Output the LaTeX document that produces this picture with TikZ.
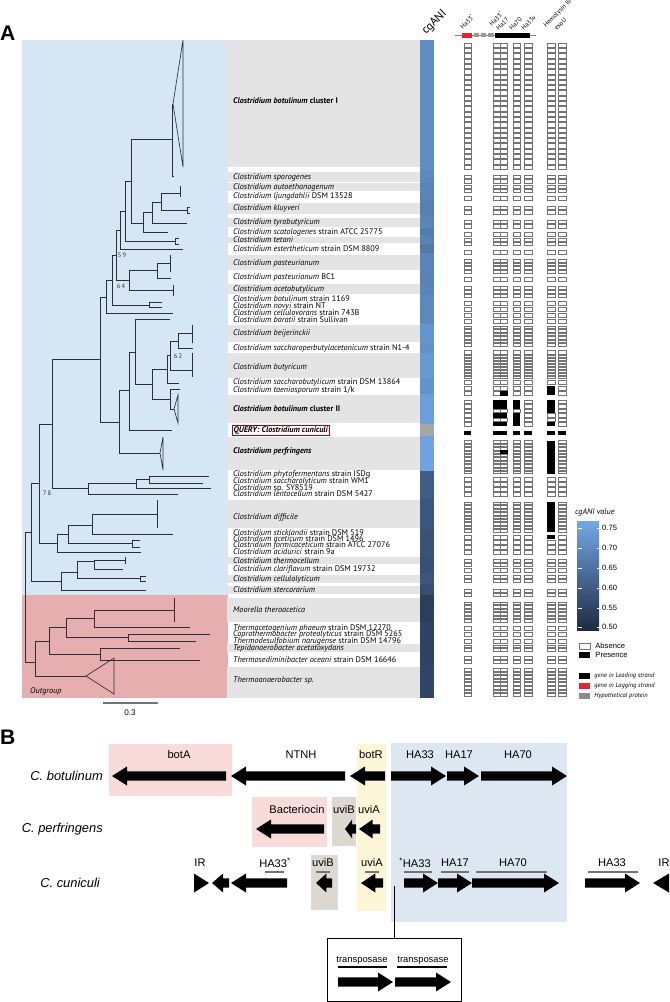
\documentclass[tikz,border=0pt]{standalone}
\usepackage{fontspec}
\setmainfont{Liberation Sans}
\newfontfamily\myriad{PT Sans}
\usetikzlibrary{positioning}

\definecolor{treebg}{HTML}{D7E6F5}
\definecolor{outbg}{HTML}{E6AEAE}
\definecolor{bandc}{HTML}{E4E4E4}
\definecolor{anihi}{HTML}{72A8E8}
\definecolor{anilo}{HTML}{1E2B43}
\definecolor{treec}{HTML}{2A2F38}
\definecolor{botpink}{HTML}{F9DCDA}
\definecolor{haclr}{HTML}{DDE7F2}
\definecolor{uviclr}{HTML}{DED8D2}
\definecolor{botrclr}{HTML}{FDF6D6}
\definecolor{lagred}{HTML}{E0262A}

% tree node: x, y of upper child, y of lower child, x of upper child, x of lower child
\newcommand\tnode[5]{\draw[tree] (#4,#2) -| (#1,#3) -- (#5,#3);}
\newcommand\clbar[3]{\draw[tree] (#1,#2) -- (#1,#3);}
\newcommand\fork[4]{\draw[tree] (#2,#3) -| (#1,#4) -- (#2,#4);}
% presence / absence stack: y centre, count, pitch, 0/1 for the seven columns
\newcommand\parow[4]{%
  \pgfmathsetmacro\ptop{#1-#2*#3/2}%
  \foreach \cf [count=\ci] in {#4} {%
    \pgfmathsetmacro\cx{{467.5,496.5,503.5,516.5,528,551,562}[\ci-1]}%
    \ifnum\cf=1
      \fill (\cx-3.7,\ptop+0.5) rectangle (\cx+3.7,\ptop+#2*#3-0.5);
    \else
      \foreach \k in {1,...,#2} {\draw[ab] (\cx-3.7,\ptop+\k*#3-#3+0.5) rectangle (\cx+3.7,\ptop+\k*#3-0.5);}
    \fi}}
\newcommand\gbox[4]{\draw[#4] (#1-3.7,#2-#3/2) rectangle (#1+3.7,#2+#3/2);}
% gene arrow: tail x, tip x, y
\newcommand\garr[3]{%
  \pgfmathsetmacro\gl{#2-(#1)}%
  \pgfmathsetmacro\gh{(\gl>0?1:-1)*min(15,0.65*abs(\gl))}%
  \pgfmathsetmacro\gb{#2-(\gh)}%
  \fill (#1,#3-4.7) -- (\gb,#3-4.7) -- (\gb,#3-9.5) -- (#2,#3) -- (\gb,#3+9.5) -- (\gb,#3+4.7) -- (#1,#3+4.7) -- cycle;}

\begin{document}
\begin{tikzpicture}[x=0.03cm,y=-0.03cm]

\tikzset{
  tree/.style={draw=treec,line width=0.55pt},
  band/.style={fill=bandc},
  ab/.style={draw=black!55,fill=white,line width=0.3pt},
  pr/.style={fill=black},
  lab/.style={anchor=west,inner sep=0pt,font=\myriad\fontsize{7}{7}\selectfont},
  hdr/.style={anchor=south west,rotate=45,inner sep=0pt,font=\myriad\fontsize{5.5}{5.5}\selectfont},
  boot/.style={inner sep=0pt,font=\myriad\fontsize{5.5}{5.5}\selectfont,text=black!80},
  leg/.style={anchor=west,inner sep=0pt,font=\fontsize{6.5}{7}\selectfont},
  gleg/.style={anchor=west,inner sep=0pt,font=\myriad\fontsize{5.5}{6}\selectfont\itshape},
  gname/.style={inner sep=0pt,font=\fontsize{9.5}{10}\selectfont},
  sname/.style={anchor=east,inner sep=0pt,font=\fontsize{11}{12}\selectfont\itshape},
  uline/.style={draw=black!55,line width=0.9pt},
  panel/.style={anchor=west,inner sep=0pt,font=\fontsize{18}{18}\selectfont\bfseries},
}
\useasboundingbox (0,0) rectangle (670,1002);

%% panel A
\node[panel] (labA) at (0,33) {A};
\fill[treebg] (22,40) rectangle (228,595);
\fill[outbg] (22,595) rectangle (228,698);
\foreach \ya/\yb in {40/167,172/181.5,183/191,203/214,218/227,237/243,255/270,284/294,325/342,
  353/378,395/423,437/470,500/528,557/564,575/583,586/594,598/622,644/652,667/698}
  \fill[band] (227,\ya) rectangle (420,\yb);

% cgANI column
\foreach \ya/\yb/\v in {40/170/78,170/182/75,182/191/72,191/200/72,200/216/68,216/228/72,228/236/65,
  236/244/70,244/253/62,253/271/72,271/283/70,283/295/72,295/324/75,324/343/85,343/353/82,353/378/88,
  378/394/84,394/424/92,436/471/95,471/498/40,498/529/35,529/556/33,556/573/30,573/584/35,584/595/28,
  595/622/15,622/666/20,666/698/22}
  \fill[anihi!\v!anilo] (420,\ya) rectangle (434,\yb);
\fill[black!35] (420,424) rectangle (434,436);

% tree
\tnode{25}{532}{662}{31}{35}
\tnode{31}{483}{581}{39}{61}
\tnode{39}{424}{543}{52}{57}
\tnode{52}{359}{488}{100}{88}
\tnode{88}{483}{494}{136}{178}
\tnode{136}{479}{488}{149}{211}
\tnode{149}{476}{483}{209}{203}
\tnode{100}{297}{422}{106}{119}
\tnode{106}{280}{313}{112}{173}
\tnode{112}{255}{305}{116}{149}
\tnode{149}{302}{307}{162}{162}
\tnode{116}{230}{280}{120}{129}
\tnode{120}{211}{249}{125}{183}
\tnode{125}{181}{241}{131}{175}
\tnode{131}{139}{223}{172}{143}
\tnode{172}{104}{176}{173}{174}
\tnode{143}{212}{232}{152}{168}
\tnode{152}{202}{223}{161}{187}
\tnode{161}{193}{210}{180}{187}
\tnode{129}{270}{290}{157}{173}
\tnode{157}{263}{278}{170}{171}
\tnode{119}{390}{453}{129}{160}
\tnode{129}{352}{430}{135}{172}
\tnode{135}{319}{384}{170}{152}
\tnode{152}{369}{399}{167}{170}
\tnode{167}{355}{383}{170}{179}
\tnode{170}{341}{370}{178}{192}
\tnode{178}{333}{348}{192}{193}
\tnode{170}{389}{409}{180}{174}
\tnode{57}{534}{552}{68}{141}
\tnode{68}{525}{543}{92}{132}
\tnode{92}{514}{534}{157}{173}
\tnode{61}{572}{590}{77}{146}
\tnode{77}{561}{578}{94}{140}
\tnode{94}{560}{569}{125}{123}
\tnode{35}{641}{676}{49}{86}
\tnode{49}{627}{654}{66}{100}
\tnode{66}{618}{637}{94}{128}
\tnode{94}{610}{627}{174}{190}
\tnode{128}{634}{641}{210}{196}
\tnode{100}{648}{660}{180}{200}
\clbar{180}{186}{197}
\clbar{170}{255}{272}
\clbar{173}{285}{296}
\clbar{192}{325}{343}
\clbar{192}{353}{377}
\clbar{157}{500}{528}
\clbar{125}{557}{564}
\clbar{174}{598}{622}
\fork{187}{190}{207}{213}
\fork{175}{179}{238}{244}
\fork{132}{140}{540}{547}
\fork{140}{146}{576}{581}
\draw[tree] (173,104) -- (183,40) -- (183,167) -- cycle;
\draw[tree] (174,409) -- (178,395) -- (178,423) -- cycle;
\draw[tree] (160,453) -- (163,437) -- (163,470) -- cycle;
\draw[tree] (86,676) -- (114,658) -- (114,694) -- cycle;
\node[boot] (bs59) at (122,255) {5\,9};
\node[boot] (bs64) at (121,286) {6\,4};
\node[boot] (bs62) at (178,356) {6\,2};
\node[boot] (bs78) at (47,493) {7\,8};
\node[lab,font=\myriad\fontsize{7}{7}\selectfont\itshape] (outg) at (30,691) {Outgroup};
\draw[black!55,line width=1pt] (103,703) -- (158,703);
\node[inner sep=0pt,font=\fontsize{7}{7}\selectfont] (sbar) at (130,713) {0.3};

% taxa
\foreach \ly/\lt [count=\li] in {
  101/{\textbf{\textit{Clostridium botulinum} cluster I}},
  177/{\textit{Clostridium sporogenes}},
  187/{\textit{Clostridium autoethanogenum}},
  196/{\textit{Clostridium ljungdahlii} DSM 13528},
  208/{\textit{Clostridium kluyveri}},
  222/{\textit{Clostridium tyrobutyricum}},
  232/{\textit{Clostridium scatologenes} strain ATCC 25775},
  240/{\textit{Clostridium tetani}},
  249/{\textit{Clostridium estertheticum} strain DSM 8809},
  263/{\textit{Clostridium pasteurianum}},
  277/{\textit{Clostridium pasteurianum} BC1},
  289/{\textit{Clostridium acetobutylicum}},
  299/{\textit{Clostridium botulinum} strain 1169},
  306/{\textit{Clostridium novyi} strain NT},
  313/{\textit{Clostridium cellulovorans} strain 743B},
  320/{\textit{Clostridium baratii} strain Sullivan},
  333/{\textit{Clostridium beijerinckii}},
  348/{\textit{Clostridium saccharoperbutylacetonicum} strain N1-4},
  367/{\textit{Clostridium butyricum}},
  382/{\textit{Clostridium saccharobutylicum} strain DSM 13864},
  390/{\textit{Clostridium taeniosporum} strain 1/k},
  409/{\textbf{\textit{Clostridium botulinum} cluster II}},
  451/{\textbf{\textit{Clostridium perfringens}}},
  474/{\textit{Clostridium phytofermentans} strain ISDg},
  481/{\textit{Clostridium saccharolyticum} strain WM1},
  488/{\textit{Clostridium} sp. SY8519},
  494/{\textit{Clostridium lentocellum} strain DSM 5427},
  517/{\textit{Clostridium difficile}},
  533/{\textit{Clostridium sticklandii} strain DSM 519},
  539/{\textit{Clostridium aceticum} strain DSM 1496},
  545/{\textit{Clostridium formicaceticum} strain ATCC 27076},
  552/{\textit{Clostridium acidurici} strain 9a},
  561/{\textit{Clostridium thermocellum}},
  569/{\textit{Clostridium clariflavum} strain DSM 19732},
  579/{\textit{Clostridium cellulolyticum}},
  590/{\textit{Clostridium stercorarium}},
  610/{\textit{Moorella theroacetica}},
  628/{\textit{Thermacetogenium phaeum} strain DSM 12270},
  634/{\textit{Coprothermobacter proteolyticus} strain DSM 5265},
  641/{\textit{Thermodesulfobium narugense} strain DSM 14796},
  648/{\textit{Tepidanaerobacter acetatoxydans}},
  660/{\textit{Thermosediminibacter oceani} strain DSM 16646},
  680/{\textit{Thermoanaerobacter sp.}}}
  \node[lab] (sp\li) at (233,\ly) {\lt};
\node[lab,draw=red!75!black,line width=0.4pt,inner sep=1.2pt] (query) at (232,430)
  {\textbf{\textit{QUERY: Clostridium cuniculi}}};

% header
\node[hdr,font=\myriad\fontsize{10}{10}\selectfont] (cgani) at (428,37) {cgANI};
\node[hdr] (h1) at (463,30) {Ha33\textsuperscript{*}};
\node[hdr] (h2) at (492,27) {Ha33\textsuperscript{*}};
\node[hdr] (h3) at (499,31) {Ha17};
\node[hdr] (h4) at (512,31) {Ha70};
\node[hdr] (h5) at (524,31) {Ha33v};
\node[hdr] (h6) at (547,29) {Hemolysin III};
\node[hdr] (h7) at (557,31) {exoU};
\draw[black!50,line width=0.6pt] (455,35) -- (536,35);
\fill[lagred] (462,32.5) rectangle (472,37.5);
\foreach \xa/\xb in {474/479,481/486,488/494} \fill[black!40] (\xa,33) rectangle (\xb,37);
\fill (495,32.5) rectangle (530,37.5);

% presence / absence
\foreach \yc/\n/\p in {106/24/5.3,179/2/4.5,189/2/4,198/1/5,210/2/4.5,224/2/4.5,234/1/5,242/2/4,
  252/1/5,266/4/3.8,279/1/5,292/3/4,303/1/5,309/1/5,315/1/5,321/1/5,336/6/3.5,352/1/5,367/8/3,
  382/1/5,479/1/5,484/1/5,489/1/5,494/1/5,542/1/5,547/1/5,552/1/5,563/2/4,570/1/5,579/2/4,
  593/2/4,612/6/3.5,628/1/5,634/1/5,641/1/5,648/2/3.5,660/2/4,682/8/3.6}
  {\parow{\yc}{\n}{\p}{0,0,0,0,0,0,0}}
\parow{390.5}{2}{5}{0,0,0,0,0,1,0}
\parow{413}{6}{4.5}{0,1,1,1,0,1,0}
\parow{433}{1}{5}{1,1,1,1,1,1,1}
\parow{457}{10}{3.4}{0,0,0,0,0,1,0}
\parow{517}{9}{3.4}{0,0,0,0,0,1,0}
\parow{537}{1}{5}{0,0,0,0,0,1,0}
\gbox{503.5}{393}{4}{pr}
\gbox{503.5}{452}{3}{pr}
\foreach \cx/\cy in {496.5/410.75,503.5/410.75,496.5/419.75,503.5/419.75,516.5/410.75,551/415.25,551/419.75}
  {\gbox{\cx}{\cy}{3.5}{ab}}

% legend
\node[anchor=west,inner sep=0pt,font=\myriad\fontsize{7}{7}\selectfont\itshape] (anititle) at (575,512) {cgANI value};
\shade[top color=anihi,bottom color=anilo] (577,521) rectangle (599,630);
\foreach \ty/\tv in {528/0.75,548/0.70,568/0.65,588/0.60,608/0.55,627/0.50} {
  \draw[white,line width=0.5pt] (578,\ty) -- (582,\ty);
  \draw[white,line width=0.5pt] (597,\ty) -- (601,\ty);
  \node[leg] at (602,\ty) {\tv};
}
\node[ab,minimum width=0.33cm,minimum height=0.18cm,inner sep=0pt] (absbox) at (584.5,646) {};
\node[fill=black,minimum width=0.33cm,minimum height=0.18cm,inner sep=0pt] (prebox) at (584.5,655) {};
\node[leg,right=1.5mm of absbox] (abstxt) {Absence};
\node[leg,right=1.5mm of prebox] (pretxt) {Presence};
\node[fill=black,minimum width=0.33cm,minimum height=0.18cm,inner sep=0pt] (leadbox) at (584.5,676) {};
\node[fill=lagred,minimum width=0.33cm,minimum height=0.18cm,inner sep=0pt] (lagbox) at (584.5,686) {};
\node[fill=black!45,minimum width=0.33cm,minimum height=0.18cm,inner sep=0pt] (hypbox) at (584.5,696) {};
\node[gleg,right=1.2mm of leadbox] (leadtxt) {gene in Leading strand};
\node[gleg,right=1.2mm of lagbox] (lagtxt) {gene in Lagging strand};
\node[gleg,right=1.2mm of hypbox] (hyptxt) {Hypothetical protein};

%% panel B
\node[panel] (labB) at (0,737) {B};
\fill[botpink] (109,744) rectangle (232,796);
\fill[botpink] (252,797) rectangle (327,847);
\fill[uviclr] (332,797) rectangle (356,846);
\fill[uviclr] (311,855) rectangle (338,910);
\fill[botrclr] (357,744) rectangle (386,911);
\fill[haclr] (391,743) rectangle (567,922);

\node[sname] (cbot) at (103,776) {C. botulinum};
\node[sname] (cper) at (103,829) {C. perfringens};
\node[sname] (ccun) at (100,883) {C. cuniculi};

\foreach \gx/\gt [count=\gi] in {179/botA,301/NTNH,371/botR,420/HA33,459/HA17,518/HA70}
  \node[gname] (ga\gi) at (\gx,755) {\gt};
\garr{226}{112}{776}
\garr{345}{231}{776}
\garr{385}{350}{776}
\garr{391}{446}{776}
\garr{447}{479}{776}
\garr{481}{567}{776}

\foreach \gx/\gt [count=\gi] in {297/Bacteriocin,344/uviB,369/uviA}
  \node[gname] (gb\gi) at (\gx,810) {\gt};
\garr{324}{256}{829}
\garr{356}{345}{829}
\garr{380}{359}{829}

\foreach \gx/\gt [count=\gi] in {200/IR,275/{HA33\textsuperscript{*}},323/uviB,372/uviA,
  415/{\textsuperscript{*}HA33},455/HA17,513/HA70,612/HA33,664/IR}
  \node[gname] (gc\gi) at (\gx,863) {\gt};
\foreach \xa/\xb in {265/284,316/330,365/379,404/432,441/469,476/547,588/638}
  \draw[uline] (\xa,872) -- (\xb,872);
\fill (194,873.5) -- (209,883) -- (194,892.5) -- cycle;
\garr{229}{212}{883}
\garr{287}{231}{883}
\garr{332}{316}{883}
\garr{383}{361}{883}
\garr{404}{438}{883}
\garr{438}{472}{883}
\garr{472}{559}{883}
\garr{585}{640}{883}
\fill (669,873.5) -- (653,883) -- (669,892.5) -- cycle;

% insertion
\coordinate (ins) at (394,886);
\node[draw=black,line width=0.8pt,minimum width=4.02cm,minimum height=1.89cm,inner sep=0pt] (tbox) at (394,969.5) {};
\draw[line width=0.6pt] (ins) -- (tbox.north);
\node[gname,font=\fontsize{8}{8}\selectfont] (tp1) at (362,960) {transposase};
\node[gname,font=\fontsize{8}{8}\selectfont] (tp2) at (423,960) {transposase};
\draw[line width=1.1pt] (338,967) -- (387,967);
\draw[line width=1.1pt] (397,967) -- (447,967);
\garr{338}{393}{982}
\garr{395}{451}{982}

\end{tikzpicture}
\end{document}
